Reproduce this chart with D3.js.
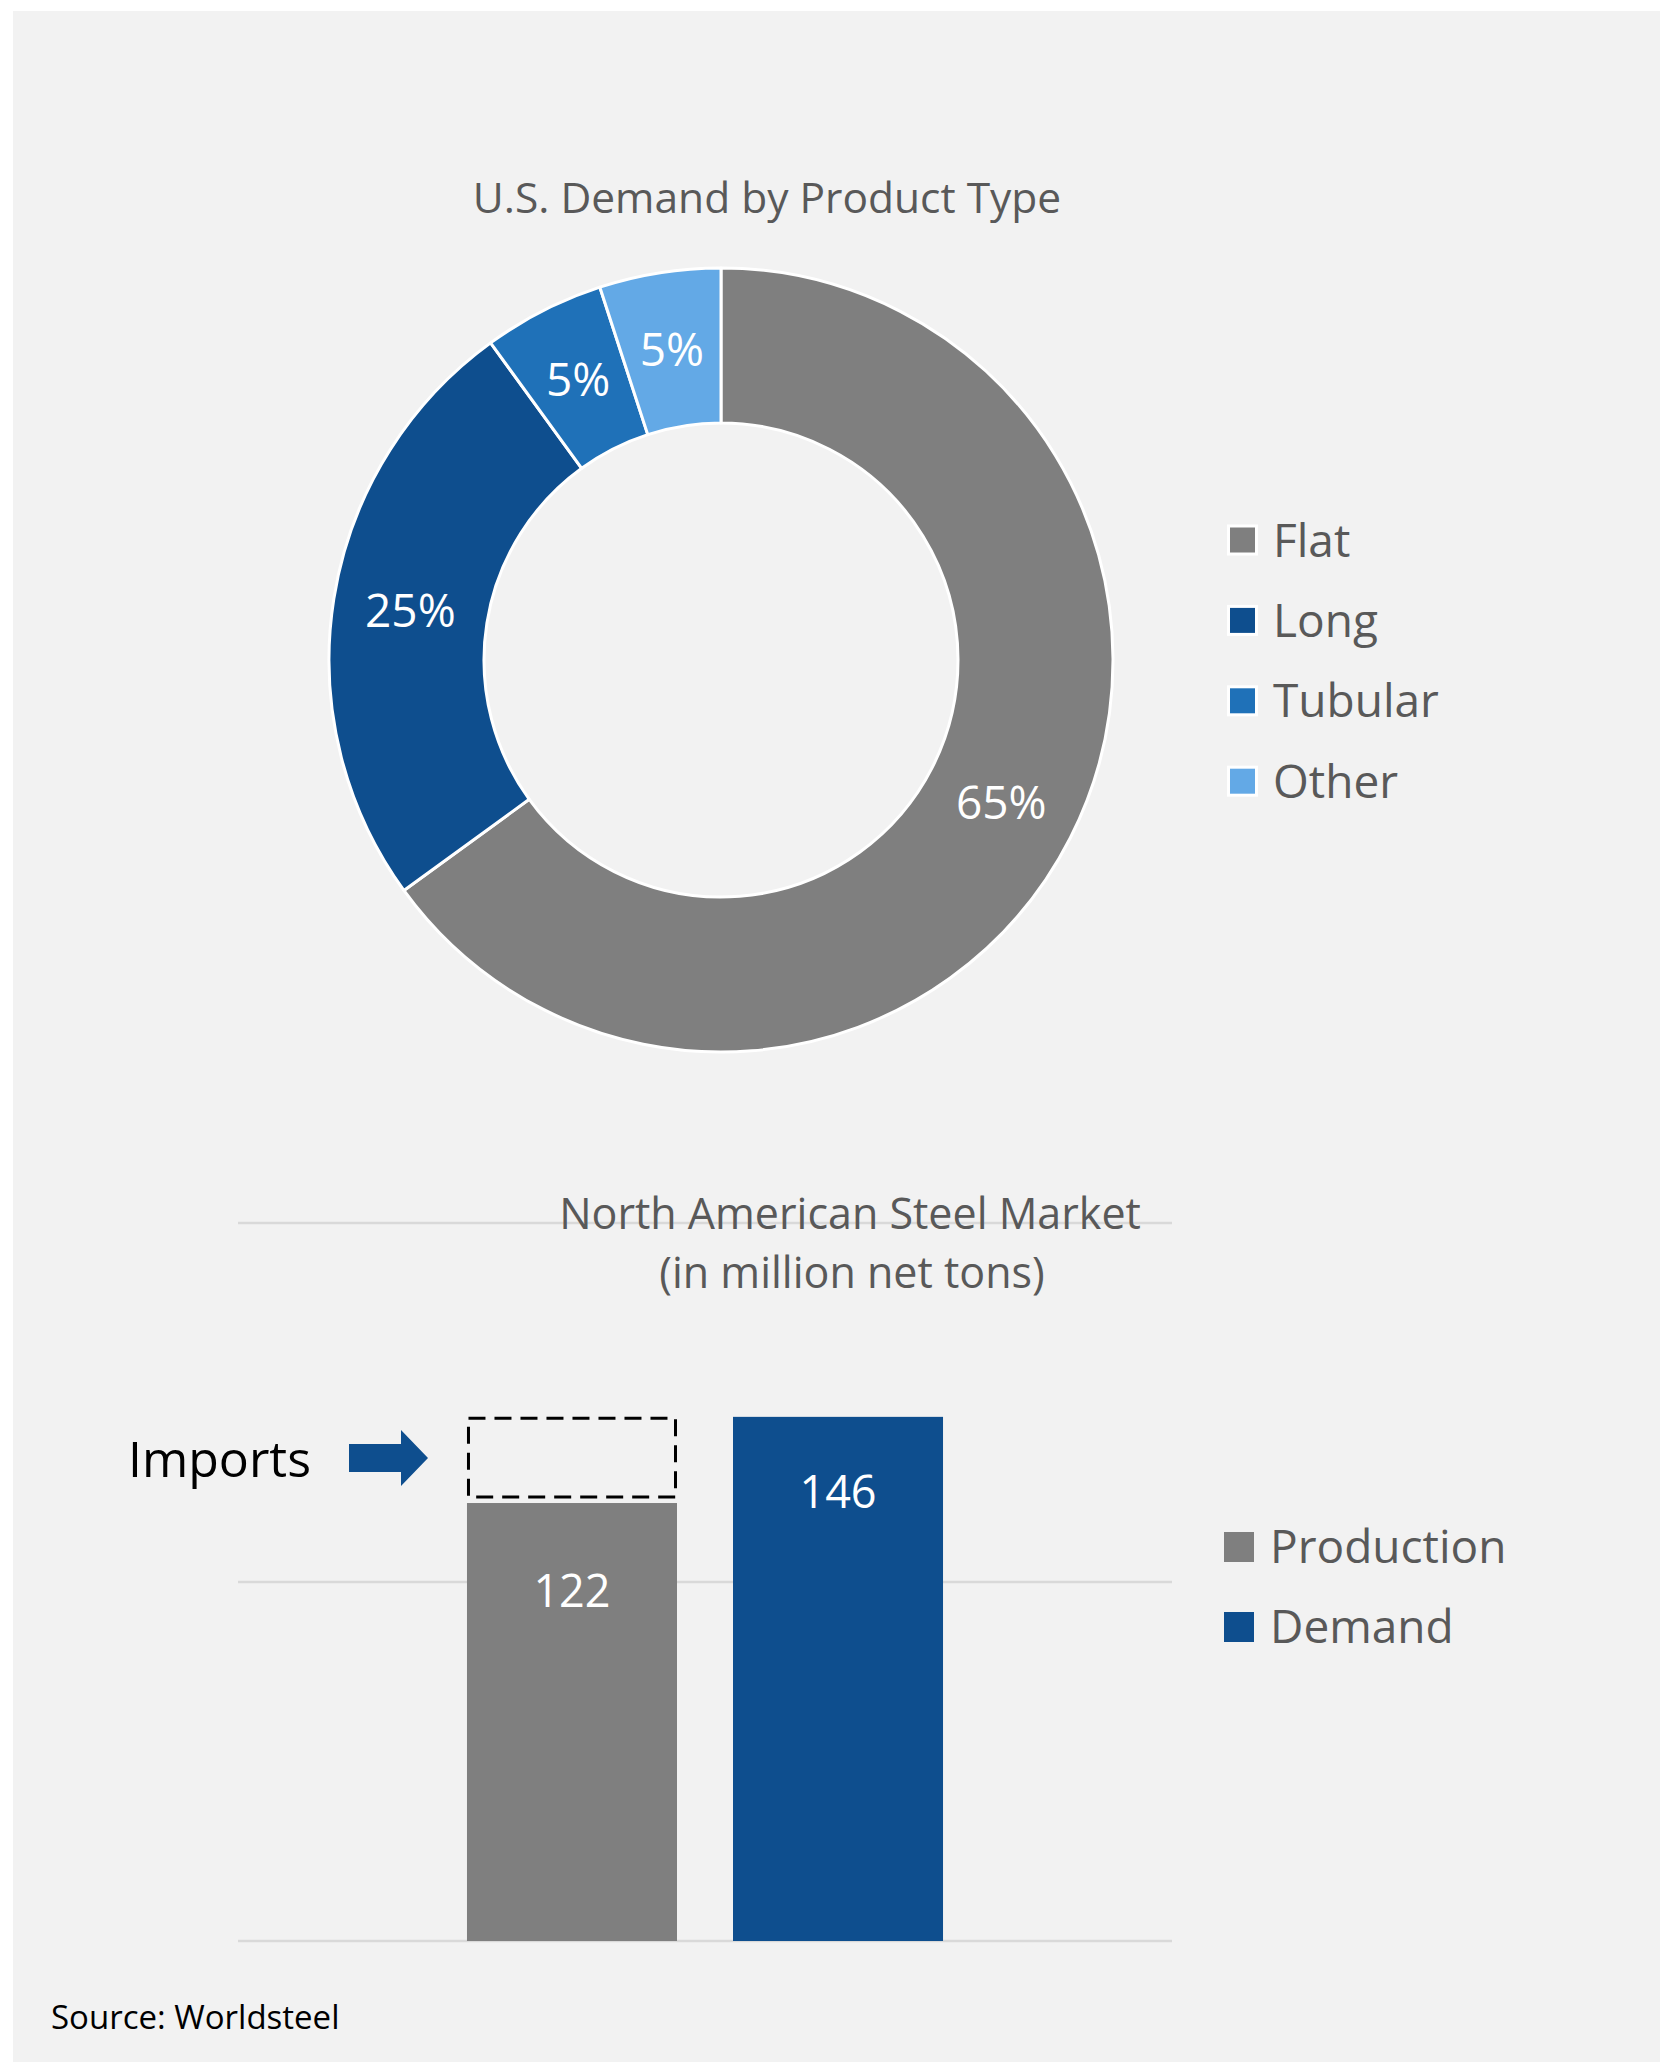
<!DOCTYPE html>
<html><head><meta charset="utf-8">
<script src="https://cdn.jsdelivr.net/npm/d3@7"></script>
<style>
html,body{margin:0;padding:0;background:#fff;}
svg{display:block;}
text{font-family:"Open Sans","Noto Sans",sans-serif;}
</style></head>
<body>
<svg id="chart" width="1660" height="2062"></svg>
<script>
// ---- data ----
const productTypes = ["Flat", "Long", "Tubular", "Other"];
const productShares = [65, 25, 5, 5];
const productColors = ["#7f7f7f", "#0e4e8e", "#1f71b8", "#63a9e6"];

const marketSeries = ["Production", "Demand"];
const marketValues = [122, 146];
const marketColors = ["#7f7f7f", "#0e4e8e"];
const marketTicks = [0, 100, 200];

const donutTitle = "U.S. Demand by Product Type";
const barTitle = ["North American Steel Market", "(in million net tons)"];
const sourceText = "Source: Worldsteel";
const importsLabel = "Imports";

// ---- drawing ----
const svg = d3.select("#chart");
svg.append("rect").attr("x", 13).attr("y", 11).attr("width", 1660 - 13).attr("height", 2062 - 11).attr("fill", "#f2f2f2");

// Donut
const cx = 721, cy = 660, rOuter = 392, rInner = 237;
const pie = d3.pie().sort(null).value(d => d.v);
const arcs = pie(productTypes.map((t, i) => ({t, v: productShares[i], c: productColors[i]})));
const arc = d3.arc().innerRadius(rInner).outerRadius(rOuter);
const gD = svg.append("g").attr("transform", `translate(${cx},${cy})`);
gD.selectAll("path").data(arcs).join("path")
  .attr("d", arc).attr("fill", d => d.data.c)
  .attr("stroke", "#fff").attr("stroke-width", 3).attr("stroke-linejoin", "round");
gD.selectAll("text.pct").data(arcs).join("text").attr("class", "pct")
  .attr("transform", d => `translate(${arc.centroid(d)})`)
  .attr("text-anchor", "middle").attr("dy", "0.36em")
  .attr("fill", "#fff").attr("font-size", 46)
  .text(d => d.data.v + "%");

svg.append("text").attr("x", 767).attr("y", 213).attr("text-anchor", "middle")
  .attr("font-size", 42.5).attr("fill", "#595959").text(donutTitle);

// Donut legend
const lgD = svg.append("g");
productTypes.forEach((t, i) => {
  const yc = 540 + i * 80.4;
  lgD.append("rect").attr("x", 1228.5).attr("y", yc - 14).attr("width", 28).attr("height", 28)
    .attr("fill", productColors[i]).attr("stroke", "#fff").attr("stroke-width", 3);
  lgD.append("text").attr("x", 1273).attr("y", yc + 16.5).attr("font-size", 46)
    .attr("fill", "#595959").text(t);
});

// Bar chart
const x0 = d3.scaleBand().domain(["NA"]).range([238, 1172]).paddingInner(0).paddingOuter(0.481);
const x1 = d3.scaleBand().domain(marketSeries).range([0, x0.bandwidth()]).paddingInner(0.2105).paddingOuter(0);
const y = d3.scaleLinear().domain([0, 200]).range([1941, 1223]);

const gB = svg.append("g");
gB.selectAll("line.grid").data(marketTicks).join("line").attr("class", "grid")
  .attr("x1", 238).attr("x2", 1172).attr("y1", d => y(d)).attr("y2", d => y(d))
  .attr("stroke", "#d9d9d9").attr("stroke-width", 2.5);

const bx = s => x0("NA") + x1(s);
gB.selectAll("rect.bar").data(marketSeries).join("rect").attr("class", "bar")
  .attr("x", d => bx(d)).attr("width", x1.bandwidth())
  .attr("y", (d, i) => y(marketValues[i])).attr("height", (d, i) => y(0) - y(marketValues[i]))
  .attr("fill", (d, i) => marketColors[i]);

const labelOffsets = [104, 91];
gB.selectAll("text.val").data(marketSeries).join("text").attr("class", "val")
  .attr("x", d => bx(d) + x1.bandwidth() / 2)
  .attr("y", (d, i) => y(marketValues[i]) + labelOffsets[i])
  .attr("text-anchor", "middle").attr("font-size", 45).attr("fill", "#fff")
  .text((d, i) => marketValues[i]);

// imports dashed box (demand - production) on top of production bar
const prodX = bx("Production");
gB.append("rect")
  .attr("x", prodX + 1.5).attr("width", x1.bandwidth() - 3)
  .attr("y", y(marketValues[1]) + 1.5)
  .attr("height", (y(marketValues[0]) - 6) - (y(marketValues[1]) + 1.5))
  .attr("fill", "none").attr("stroke", "#000").attr("stroke-width", 3)
  .attr("stroke-dasharray", "17,9");

// arrow
const ay = (y(marketValues[1]) + y(marketValues[0])) / 2 - 2;
gB.append("path")
  .attr("d", `M349,${ay-14} L401,${ay-14} L401,${ay-28} L428,${ay} L401,${ay+28} L401,${ay+14} L349,${ay+14} Z`)
  .attr("fill", "#0e4e8e");
gB.append("text").attr("x", 128).attr("y", 1477).attr("font-size", 50).attr("fill", "#000").text(importsLabel);

svg.append("text").attr("x", 850).attr("y", 1229).attr("text-anchor", "middle")
  .attr("font-size", 43).attr("fill", "#595959").text(barTitle[0]);
svg.append("text").attr("x", 852).attr("y", 1288).attr("text-anchor", "middle")
  .attr("font-size", 43).attr("fill", "#595959").text(barTitle[1]);

// bar legend
marketSeries.forEach((s, i) => {
  const yc = 1547 + i * 80;
  svg.append("rect").attr("x", 1224).attr("y", yc - 15).attr("width", 30).attr("height", 30).attr("fill", marketColors[i]);
  svg.append("text").attr("x", 1270).attr("y", yc + 16).attr("font-size", 46).attr("fill", "#595959").text(s);
});

svg.append("text").attr("x", 51).attr("y", 2029).attr("font-size", 33).attr("fill", "#000").text(sourceText);
</script>
</body></html>
